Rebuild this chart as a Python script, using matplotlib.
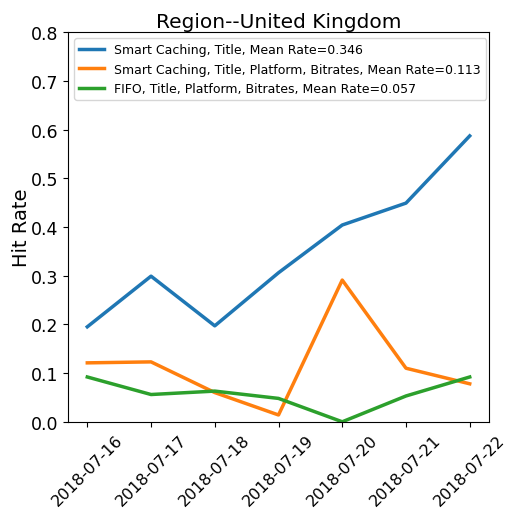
import matplotlib
matplotlib.use('Agg')
import matplotlib.pyplot as plt

# data
dates = ['2018-07-16', '2018-07-17', '2018-07-18', '2018-07-19',
         '2018-07-20', '2018-07-21', '2018-07-22']
smart_title = [0.195, 0.299, 0.197, 0.306, 0.404, 0.449, 0.587]
smart_full = [0.121, 0.123, 0.060, 0.014, 0.291, 0.110, 0.078]
fifo_full = [0.092, 0.056, 0.063, 0.048, 0.000, 0.053, 0.092]
labels = ['Smart Caching, Title, Mean Rate=0.346',
          'Smart Caching, Title, Platform, Bitrates, Mean Rate=0.113',
          'FIFO, Title, Platform, Bitrates, Mean Rate=0.057']

fig = plt.figure(figsize=(5.05, 5.1), dpi=100)
ax = fig.add_axes([0.135, 0.171, 0.833, 0.764])

for series, lab in zip([smart_title, smart_full, fifo_full], labels):
    ax.plot(dates, series, linewidth=2.5, label=lab)

ax.set_ylim(0, 0.8)
ax.set_title('Region--United Kingdom', fontsize=14.5, pad=4)
ax.set_ylabel('Hit Rate', fontsize=14, labelpad=0)
ax.tick_params(axis='y', labelsize=12.5)
ax.tick_params(axis='x', labelsize=11.5)
plt.setp(ax.get_xticklabels(), rotation=45)
ax.legend(loc='upper left', fontsize=9)

fig.savefig('out.png', dpi=100)
